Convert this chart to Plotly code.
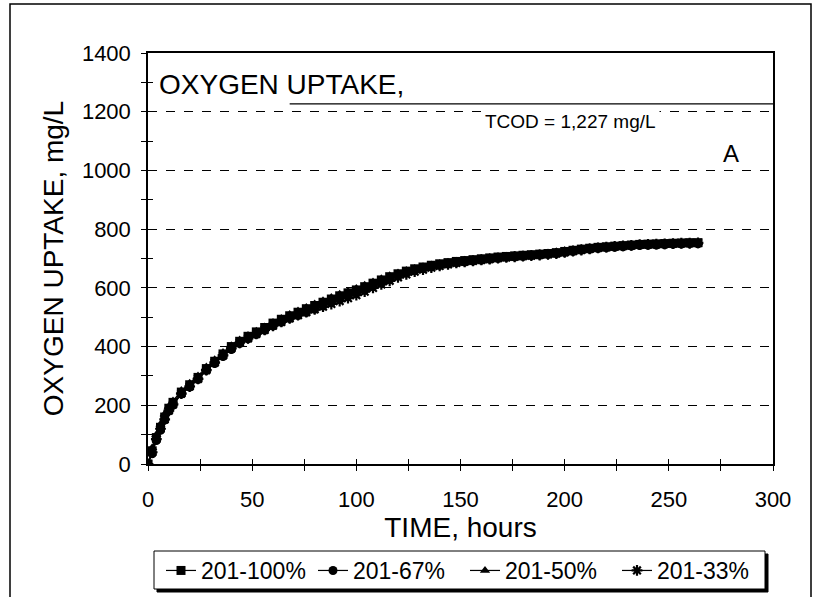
import plotly.graph_objects as go

# ---- data ----
TIME = [0, 2, 4, 6, 8, 10, 12,
        16, 20, 24, 28, 32, 36, 40, 44, 48, 52, 56, 60, 64, 68, 72, 76, 80, 84, 88, 92,
        96, 100, 104, 108, 112, 116, 120, 124, 128, 132, 136, 140, 144, 148, 152, 156,
        160, 164, 168, 172, 176, 180, 184, 188, 192, 196, 200, 204, 208, 212, 216, 220,
        224, 228, 232, 236, 240, 244, 248, 252, 256, 260, 264]

S_100 = [0, 45, 90, 125, 160, 190, 210,
         245, 270, 295, 325, 350, 375, 400, 418, 435, 450,
         465, 480, 493, 505, 517, 529, 540, 551, 562, 573,
         583, 593, 604, 616, 627, 638, 648, 657, 665, 671,
         677, 682, 686, 690, 693, 696, 699, 702, 705, 707,
         709, 711, 713, 715, 717, 720, 724, 728, 732, 735,
         738, 740, 742, 744, 746, 748, 749, 750, 751, 752,
         753, 754, 754]

S_67 = [0, 35, 80, 115, 150, 180, 200,
        238, 262, 288, 318, 342, 366, 390, 410, 426, 441,
        455, 470, 483, 495, 506, 516, 527, 538, 549, 560,
        571, 581, 592, 604, 616, 628, 640, 650, 658, 665,
        671, 676, 681, 685, 688, 691, 694, 697, 700, 703,
        705, 707, 709, 711, 713, 716, 720, 724, 728, 731,
        734, 736, 738, 740, 742, 744, 745, 746, 747, 748,
        749, 750, 750]

S_50 = [0, 55, 100, 135, 170, 195, 215,
        250, 275, 300, 330, 355, 380, 403, 422, 438, 452,
        467, 482, 496, 509, 521, 533, 545, 556, 567, 578,
        588, 598, 609, 620, 631, 641, 651, 659, 666, 672,
        678, 683, 687, 691, 694, 697, 700, 703, 706, 708,
        710, 712, 714, 716, 719, 723, 727, 731, 734, 737,
        739, 741, 743, 745, 747, 748, 749, 750, 751, 752,
        753, 753, 754]

S_33 = [0, 40, 85, 120, 152, 182, 203,
        240, 264, 290, 320, 345, 370, 394, 413, 428, 443,
        457, 471, 484, 496, 507, 517, 527, 536, 545, 555,
        565, 575, 587, 600, 612, 624, 636, 646, 655, 662,
        669, 675, 680, 685, 689, 692, 695, 698, 701, 704,
        706, 708, 710, 712, 714, 717, 721, 725, 729, 733,
        736, 739, 741, 743, 745, 747, 748, 749, 750, 751,
        752, 752, 753]

SERIES_NAMES = ["201-100%", "201-67%", "201-50%", "201-33%"]
TCOD = 1227
TCOD_LINE_START = 68

X_RANGE = [0, 300]
Y_RANGE = [0, 1400]

FONT = "Liberation Sans, Arial, sans-serif"

# plot area in pixels (fixed margins)
L, R, T, B = 148, 40, 53, 133
PW, PH = 813 - L - R, 597 - T - B


def px_x(p):
    return (p - L) / PW


def px_y(p):
    return 1 - (p - T) / PH


fig = go.Figure()

symbols = ["square", "circle", "triangle-up", "asterisk-open"]
for name, vals, sym in zip(SERIES_NAMES, [S_100, S_67, S_50, S_33], symbols):
    if sym == "asterisk-open":
        marker = dict(symbol=sym, size=9, color="black", line=dict(width=2.2, color="black"))
    else:
        marker = dict(symbol=sym, size=9, color="black", line=dict(width=0))
    fig.add_trace(go.Scatter(x=TIME, y=vals, mode="lines+markers", name=name,
                             line=dict(color="black", width=1.2), marker=marker))

# invisible trace to carry the inside (crossing) tick axes
fig.add_trace(go.Scatter(x=[None], y=[None], xaxis="x2", yaxis="y2",
                         showlegend=False, hoverinfo="skip"))

fig.update_layout(
    width=813, height=597,
    margin=dict(l=L, r=R, t=T, b=B),
    paper_bgcolor="white", plot_bgcolor="white",
    font=dict(family=FONT, color="black", size=22),
    showlegend=True,
    legend=dict(orientation="h", xref="container", yref="container",
                x=465 / 813, xanchor="center", y=1 - 549 / 597, yanchor="top",
                bgcolor="rgba(0,0,0,0)", borderwidth=0,
                font=dict(size=23, family=FONT), itemwidth=30, entrywidth=107,
                tracegroupgap=0),
    xaxis=dict(range=X_RANGE, dtick=50, tick0=0, ticks="outside", ticklen=5,
               tickcolor="black", tickwidth=1, automargin=False,
               minor=dict(dtick=25, ticks="outside", ticklen=5, tickcolor="black"),
               showline=True, linecolor="black", linewidth=1.5, mirror=True,
               showgrid=False, zeroline=False, ticklabelstandoff=10,
               tickfont=dict(size=22),
               title=dict(text="TIME, hours", font=dict(size=28), standoff=2)),
    yaxis=dict(range=Y_RANGE, dtick=200, tick0=0, ticks="outside", ticklen=5,
               tickcolor="black", tickwidth=1, automargin=False,
               minor=dict(dtick=100, ticks="outside", ticklen=5, tickcolor="black"),
               showline=True, linecolor="black", linewidth=1.5, mirror=True,
               showgrid=True, gridcolor="black", gridwidth=1, griddash="dash",
               zeroline=False, ticklabelstandoff=6,
               tickfont=dict(size=22),
               title=dict(text="OXYGEN UPTAKE, mg/L", font=dict(size=28), standoff=10)),
    xaxis2=dict(range=X_RANGE, overlaying="x", anchor="y2", side="bottom", automargin=False,
                dtick=25, tick0=0, ticks="inside", ticklen=5, tickcolor="black",
                showticklabels=False, showgrid=False, zeroline=False, showline=False),
    yaxis2=dict(range=Y_RANGE, overlaying="y", anchor="x2", side="left", automargin=False,
                dtick=100, tick0=0, ticks="inside", ticklen=5, tickcolor="black",
                showticklabels=False, showgrid=False, zeroline=False, showline=False),
)

shapes = [
    # outer chart frame
    dict(type="rect", xref="paper", yref="paper",
         x0=px_x(10), x1=px_x(811), y0=px_y(600), y1=px_y(4),
         line=dict(color="black", width=1.5), fillcolor="rgba(0,0,0,0)", layer="below"),
    # legend shadow + box
    dict(type="rect", xref="paper", yref="paper",
         x0=px_x(157), x1=px_x(768), y0=px_y(592), y1=px_y(554),
         line=dict(color="black", width=1), fillcolor="black", layer="below"),
    dict(type="rect", xref="paper", yref="paper",
         x0=px_x(154), x1=px_x(765), y0=px_y(589), y1=px_y(551),
         line=dict(color="black", width=1), fillcolor="white", layer="below"),
    # TCOD line
    dict(type="line", xref="x", yref="y", x0=TCOD_LINE_START, x1=X_RANGE[1], y0=TCOD, y1=TCOD,
         line=dict(color="black", width=1.2)),
]
fig.update_layout(shapes=shapes)

fig.add_annotation(x=px_x(158), y=px_y(84), xref="paper", yref="paper",
                   text="OXYGEN UPTAKE,", showarrow=False, xanchor="left", yanchor="middle",
                   font=dict(size=28, family=FONT), bgcolor="white", borderpad=0)
fig.add_annotation(x=203, y=1168, xref="x", yref="y",
                   text="TCOD = 1,227 mg/L", showarrow=False, xanchor="center", yanchor="middle",
                   font=dict(size=19, family=FONT), bgcolor="white", borderpad=3)
fig.add_annotation(x=280, y=1056, xref="x", yref="y",
                   text="A", showarrow=False, xanchor="center", yanchor="middle",
                   font=dict(size=24, family=FONT))

fig.write_html("out.html", config={"displayModeBar": False},
               post_script="document.body.style.margin='0';document.body.style.overflow='hidden';")
